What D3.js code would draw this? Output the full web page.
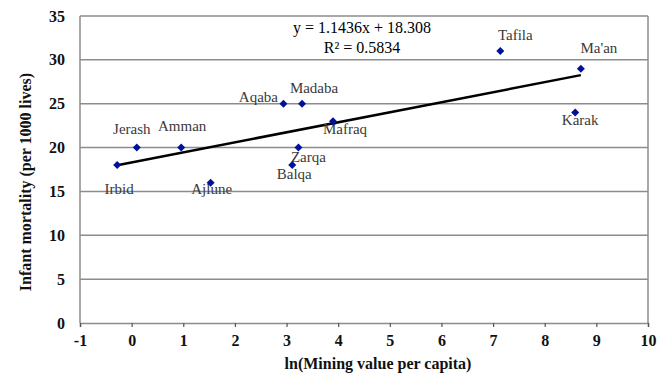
<!DOCTYPE html>
<html>
<head>
<meta charset="utf-8">
<script src="https://cdn.jsdelivr.net/npm/d3@7"></script>
<style>
  html, body { margin: 0; padding: 0; background: #fff; }
  svg { display: block; }
</style>
</head>
<body>
<svg id="chart" width="669" height="376"></svg>
<script>
// Governorates with ln(mining value per capita) and infant mortality per 1000 lives
const governorates = ["Irbid", "Jerash", "Amman", "Ajlune", "Aqaba", "Madaba", "Mafraq", "Zarqa", "Balqa", "Tafila", "Ma'an", "Karak"];
const lnMiningValue = [-0.28, 0.10, 0.96, 1.53, 2.94, 3.30, 3.90, 3.23, 3.11, 7.14, 8.70, 8.59];
const infantMortality = [18, 20, 20, 16, 25, 25, 23, 20, 18, 31, 29, 24];

// Linear trend fitted to the points
const trendSlope = 1.1436;
const trendIntercept = 18.308;
const rSquared = 0.5834;

const xTicks = [-1, 0, 1, 2, 3, 4, 5, 6, 7, 8, 9, 10];
const yTicks = [0, 5, 10, 15, 20, 25, 30, 35];

// Label offsets (px) relative to each marker, so names don't collide
const labelOffset = {
  "Irbid":  [2, 29],
  "Jerash": [-5, -13.5],
  "Amman":  [1, -17],
  "Ajlune": [1, 11],
  "Aqaba":  [-25, -2],
  "Madaba": [12, -11],
  "Mafraq": [12, 13],
  "Zarqa":  [10, 14],
  "Balqa":  [2, 14],
  "Tafila": [15, -11],
  "Ma'an":  [18, -16],
  "Karak":  [5, 12.5]
};

const svg = d3.select("#chart");
const plot = { left: 80, right: 648, top: 16, bottom: 323 };
const serif = "'Liberation Serif', 'Times New Roman', serif";
const gridColor = "#8c8c8c";

const x = d3.scaleLinear().domain([-1, 10]).range([plot.left, plot.right]);
const y = d3.scaleLinear().domain([0, 35]).range([plot.bottom, plot.top]);

const points = governorates.map((name, i) => ({ name, x: lnMiningValue[i], y: infantMortality[i] }));

// Horizontal gridlines and plot frame
svg.append("g")
  .selectAll("line")
  .data(yTicks.filter(t => t > 0))
  .join("line")
  .attr("x1", plot.left).attr("x2", plot.right)
  .attr("y1", d => y(d)).attr("y2", d => y(d))
  .attr("stroke", gridColor).attr("stroke-width", 1.5);

svg.append("line")
  .attr("x1", plot.left).attr("x2", plot.left)
  .attr("y1", plot.top).attr("y2", plot.bottom)
  .attr("stroke", gridColor).attr("stroke-width", 1.5);
svg.append("line")
  .attr("x1", plot.right).attr("x2", plot.right)
  .attr("y1", plot.top).attr("y2", plot.bottom)
  .attr("stroke", gridColor).attr("stroke-width", 1.5);

// X axis along the bottom (plain hyphen for negatives)
const xAxis = svg.append("g")
  .attr("transform", `translate(0,${plot.bottom})`)
  .call(d3.axisBottom(x).tickValues(xTicks).tickSize(4).tickPadding(8).tickFormat(d => String(d)));
xAxis.select(".domain").attr("stroke", gridColor).attr("stroke-width", 1.5);
xAxis.selectAll(".tick line").attr("stroke", "#555").attr("stroke-width", 1.2);
xAxis.selectAll(".tick text")
  .attr("font-family", serif).attr("font-size", 16).attr("font-weight", "bold")
  .attr("fill", "#111");

// Y axis labels
const yAxis = svg.append("g")
  .attr("transform", `translate(${plot.left},0)`)
  .call(d3.axisLeft(y).tickValues(yTicks).tickSize(0).tickPadding(15).tickFormat(d => String(d)));
yAxis.select(".domain").remove();
yAxis.selectAll(".tick text")
  .attr("font-family", serif).attr("font-size", 16).attr("font-weight", "bold")
  .attr("fill", "#111");

// Axis titles
svg.append("text")
  .attr("x", 378).attr("y", 369)
  .attr("text-anchor", "middle")
  .attr("font-family", serif).attr("font-size", 16).attr("font-weight", "bold")
  .attr("fill", "#111")
  .text("ln(Mining value per capita)");

svg.append("text")
  .attr("transform", "translate(31,182) rotate(-90)")
  .attr("text-anchor", "middle")
  .attr("font-family", serif).attr("font-size", 16).attr("font-weight", "bold")
  .attr("fill", "#111")
  .text("Infant mortality (per 1000 lives)");

// Trend line across the data range
const xExtent = d3.extent(lnMiningValue);
svg.append("path")
  .datum(xExtent.map(v => [v, trendSlope * v + trendIntercept]))
  .attr("d", d3.line().x(d => x(d[0])).y(d => y(d[1])))
  .attr("stroke", "#000").attr("stroke-width", 2.5).attr("fill", "none");

// Point labels
svg.append("g")
  .selectAll("text")
  .data(points)
  .join("text")
  .attr("x", d => x(d.x) + labelOffset[d.name][0])
  .attr("y", d => y(d.y) + labelOffset[d.name][1])
  .attr("text-anchor", "middle")
  .attr("font-family", serif).attr("font-size", 15)
  .attr("fill", "#3a3a3a")
  .text(d => d.name);

// Diamond markers
svg.append("g")
  .selectAll("path")
  .data(points)
  .join("path")
  .attr("d", d3.symbol(d3.symbolSquare, 32))
  .attr("transform", d => `translate(${x(d.x)},${y(d.y)}) rotate(45)`)
  .attr("fill", "#00129a");

// Regression equation
const eq = svg.append("text")
  .attr("text-anchor", "middle")
  .attr("font-family", serif).attr("font-size", 16)
  .attr("fill", "#000");
eq.append("tspan").attr("x", 362).attr("y", 33)
  .text(`y = ${trendSlope}x + ${trendIntercept.toFixed(3)}`);
eq.append("tspan").attr("x", 362).attr("y", 53)
  .text(`R² = ${rSquared}`);
</script>
</body>
</html>
